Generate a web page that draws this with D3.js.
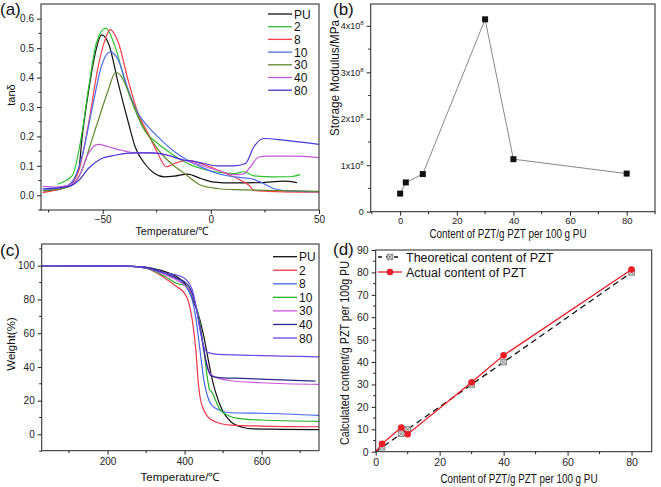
<!DOCTYPE html>
<html><head><meta charset="utf-8">
<script src="https://cdn.jsdelivr.net/npm/d3@7"></script>
<style>body{margin:0;background:#fff}svg{display:block;font-family:"Liberation Sans",Arial,sans-serif}</style>
</head><body><svg id="c" width="661" height="487"></svg>
<script>
// ---------- DATA ----------
// (a) tan delta vs temperature
const seriesA = ["PU","2","8","10","30","40","80"];
const colorsA = ["#111111","#2ec12e","#ff3b4a","#4a6cf0","#5f8a2c","#c257d8","#4338d8"];
const tanPU = [[-77,0.015],[-70,0.02],[-65.7,0.034],[-61,0.09],[-59.6,0.19],[-56.6,0.35],[-53.5,0.48],[-50.5,0.545],[-47,0.51],[-42.8,0.38],[-38,0.244],[-35,0.165],[-30.6,0.108],[-26,0.074],[-21.4,0.0625],[-16.8,0.065],[-10.7,0.072],[-4.6,0.057],[1.5,0.045],[10.7,0.042],[23,0.043],[33.6,0.048],[39.8,0.043]];
const tan2 = [[-71,0.0375],[-64,0.068],[-59.6,0.21],[-56.6,0.36],[-52.8,0.52],[-48.6,0.568],[-44.3,0.506],[-39.8,0.39],[-35,0.29],[-30.6,0.22],[-24.5,0.176],[-18.3,0.142],[-10.7,0.108],[-1.5,0.085],[6.1,0.076],[10.7,0.074],[15.3,0.08],[19.9,0.066],[29,0.0625],[36.7,0.063],[41.3,0.07]];
const tan8 = [[-77.7,0.009],[-65.7,0.034],[-61,0.085],[-56.6,0.24],[-52,0.44],[-48.9,0.528],[-46.6,0.563],[-42.8,0.52],[-38.2,0.39],[-33.6,0.278],[-29,0.21],[-24.5,0.142],[-20.6,0.097],[-16.8,0.108],[-10.7,0.119],[-4.6,0.108],[1.5,0.091],[7.6,0.072],[13.8,0.051],[17.6,0.034],[19.9,0.017],[26,0.0136],[41.3,0.011],[50,0.011]];
const tan10 = [[-77.7,0.017],[-65.7,0.034],[-59.6,0.13],[-55,0.29],[-50.5,0.44],[-46.6,0.487],[-42.8,0.46],[-38.2,0.358],[-33.6,0.278],[-29,0.233],[-22.9,0.1875],[-16.8,0.148],[-10.7,0.119],[-4.6,0.0966],[3.1,0.074],[10.7,0.0625],[18.3,0.057],[23,0.045],[29,0.023],[35.2,0.015],[50,0.012]];
const tan30 = [[-77.7,0.015],[-65.7,0.028],[-59.6,0.085],[-55,0.1875],[-50.5,0.29],[-47.4,0.358],[-44,0.418],[-41.3,0.403],[-36.7,0.324],[-32.1,0.244],[-27.5,0.1875],[-22.9,0.142],[-18.3,0.108],[-12.2,0.074],[-4.6,0.034],[3.1,0.023],[10.7,0.019],[26,0.017],[50,0.0136]];
const tan40 = [[-77.7,0.03],[-71.8,0.028],[-65.7,0.034],[-61,0.0625],[-56.6,0.142],[-52,0.173],[-47.4,0.165],[-41.3,0.153],[-35,0.144],[-27.5,0.144],[-19.9,0.136],[-12.2,0.119],[-4.6,0.102],[3.1,0.085],[10.7,0.07],[15.3,0.073],[18.3,0.097],[22.2,0.13],[26,0.133],[38.2,0.133],[50,0.128]];
const tan80 = [[-77.7,0.0216],[-65.7,0.03],[-61,0.051],[-56.6,0.091],[-50.5,0.125],[-44.3,0.136],[-35,0.144],[-27.5,0.144],[-19.9,0.136],[-12.2,0.119],[-9.2,0.117],[-4.6,0.11],[3.1,0.1],[10.7,0.1],[16,0.108],[19.9,0.165],[24.5,0.193],[33.6,0.1875],[50,0.173]];
const dataA = [tanPU,tan2,tan8,tan10,tan30,tan40,tan80];

// (b) storage modulus
const contentB = [0,2,8,30,40,80];
const modulusB = [0.39e8,0.63e8,0.81e8,4.14e8,1.13e8,0.82e8];

// (c) TGA weight vs temperature
const seriesC = ["PU","2","8","10","30","40","80"];
const colorsC = ["#111111","#f0344a","#4466ee","#22b522","#cc55dd","#2a2a90","#6a4ae6"];
const wPU = [[30,100],[250,99.8],[300,99],[350,96.4],[380,93.5],[400,89.5],[420,80.6],[440,67.8],[450,57.9],[460,46],[470,34.2],[480,25.3],[500,13.4],[520,7.5],[550,4.2],[580,3.2],[650,3],[750,2.8]];
const w2 = [[30,100],[250,99.8],[300,98.5],[350,92.5],[380,87.5],[400,83.6],[410,78.7],[420,67.8],[430,48],[435,32],[440,22.3],[450,14.4],[460,10.5],[480,7.5],[520,5.5],[600,4.9],[750,4.5]];
const w8 = [[30,100],[250,99.8],[300,99],[350,95.5],[380,92.5],[400,88.5],[420,79.6],[430,67.8],[440,50],[450,32.2],[460,22.3],[470,17.4],[490,14.4],[520,12.8],[600,12.5],[750,11.2]];
const w10 = [[30,100],[250,99.8],[300,98.5],[350,93.5],[380,89.5],[400,88.5],[420,82.6],[440,65.8],[450,50],[460,32.2],[465,26.3],[470,25.3],[480,20.4],[490,15.4],[510,11.5],[540,9.5],[600,8.5],[750,7.7]];
const w30 = [[30,100],[250,99.8],[300,99],[350,94.5],[380,91.5],[400,88.5],[420,82.6],[440,63.8],[450,50],[460,40],[470,35.2],[490,33.2],[520,31.8],[600,30.6],[750,29.6]];
const w40 = [[30,100],[250,99.8],[300,99],[350,95.5],[380,92.5],[400,90.5],[420,83.6],[440,63.8],[450,50],[460,39],[470,34.6],[490,33.6],[550,33.2],[740,31.6]];
const w80 = [[30,100],[250,99.8],[300,98.5],[350,95.5],[380,94.5],[400,92.5],[420,85.6],[430,75.7],[440,61.9],[450,52],[460,48.6],[480,47.6],[550,47],[750,46]];
const dataC = [wPU,w2,w8,w10,w30,w40,w80];

// (d) calculated vs theoretical content
const contentD = [0,2,8,10,30,40,80];
const theoreticalD = [0,2,8,10,30,40,80];
const actualD = [0,3.5,10.8,7.8,31,43,81.3];

// ---------- DRAW ----------
const svg = d3.select("#c");
const FR = "#222";

function frame(g, x0, x1, y0, y1){
  g.append("rect").attr("x",x0).attr("y",y0).attr("width",x1-x0).attr("height",y1-y0)
    .attr("fill","none").attr("stroke",FR).attr("stroke-width",1);
}
function xAxis(x, y0, majors, minors, fmt, fs, pad=3){
  const g = svg.append("g").attr("transform",`translate(0,${y0})`);
  const ax = d3.axisBottom(x).tickValues(majors).tickSize(4).tickPadding(pad).tickFormat(fmt);
  g.call(ax);
  g.select(".domain").remove();
  g.selectAll("line").attr("stroke",FR);
  g.selectAll("text").attr("font-size",fs).attr("fill","#222").attr("font-family","Liberation Sans, Arial");
  minors.forEach(v=>g.append("line").attr("x1",x(v)).attr("x2",x(v)).attr("y1",0).attr("y2",2.5).attr("stroke",FR));
  return g;
}
function yAxis(y, x0, majors, minors, fmt, fs){
  const g = svg.append("g").attr("transform",`translate(${x0},0)`);
  const ax = d3.axisLeft(y).tickValues(majors).tickSize(4).tickFormat(fmt);
  g.call(ax);
  g.select(".domain").remove();
  g.selectAll("line").attr("stroke",FR);
  g.selectAll("text").attr("font-size",fs).attr("fill","#222").attr("font-family","Liberation Sans, Arial");
  minors.forEach(v=>g.append("line").attr("y1",y(v)).attr("y2",y(v)).attr("x1",0).attr("x2",-2.5).attr("stroke",FR));
  return g;
}
function label(txt,x,y,fs,opts={}){
  const t = svg.append("text").attr("x",x).attr("y",y).attr("font-size",fs).attr("fill","#111").text(txt);
  if(opts.anchor) t.attr("text-anchor",opts.anchor);
  if(opts.rot) t.attr("transform",`rotate(-90,${x},${y})`);
  if(opts.len) t.attr("textLength",opts.len).attr("lengthAdjust","spacingAndGlyphs");
  if(opts.weight) t.attr("font-weight",opts.weight);
  return t;
}

// ----- Panel (a) -----
{
  const x = d3.scaleLinear().domain([-78.5,50]).range([41,319]);
  const y = d3.scaleLinear().domain([-0.05,0.65]).range([210,4]);
  const g = svg.append("g");
  svg.append("clipPath").attr("id","ca").append("rect").attr("x",41).attr("y",4).attr("width",278).attr("height",206);
  const line = d3.line().x(d=>x(d[0])).y(d=>y(d[1])).curve(d3.curveMonotoneX);
  dataA.forEach((d,i)=>g.append("path").attr("d",line(d)).attr("fill","none").attr("stroke",colorsA[i]).attr("stroke-width",1.2).attr("clip-path","url(#ca)"));
  frame(g,41,319,4,210);
  xAxis(x,210,[-50,0,50],[-75,-25,25],d3.format("d"),10,2);
  yAxis(y,41,[0,0.1,0.2,0.3,0.4,0.5,0.6],[-0.05,0.05,0.15,0.25,0.35,0.45,0.55],d3.format(".1f"),10);
  label("Temperature/℃",172,235,11.5,{anchor:"middle",len:73});
  label("tanδ",15,95,11,{anchor:"middle",rot:true});
  label("(a)",0,15,17);
  const lg = svg.append("g");
  seriesA.forEach((s,i)=>{
    const yy = 14 + i*12.7;
    lg.append("line").attr("x1",268).attr("x2",292).attr("y1",yy).attr("y2",yy).attr("stroke",colorsA[i]).attr("stroke-width",1.3);
    lg.append("text").attr("x",294).attr("y",yy+4.5).attr("font-size",12).attr("fill","#111").text(s);
  });
}

// ----- Panel (b) -----
{
  const x = d3.scaleLinear().domain([-10.4,90]).range([370.7,655]);
  const y = d3.scaleLinear().domain([0,4.47e8]).range([211.7,4]);
  const g = svg.append("g");
  const pts = contentB.map((c,i)=>[c,modulusB[i]]);
  g.append("path").attr("d",d3.line().x(d=>x(d[0])).y(d=>y(d[1]))(pts)).attr("fill","none").attr("stroke","#888").attr("stroke-width",1);
  g.selectAll("rect.m").data(pts).enter().append("rect").attr("x",d=>x(d[0])-3).attr("y",d=>y(d[1])-3).attr("width",6).attr("height",6).attr("fill","#111");
  frame(g,370.7,655,4,211.7);
  xAxis(x,211.7,[0,20,40,60,80],[-10,10,30,50,70,90],d3.format("d"),9.5,1.5);
  const ya = yAxis(y,370.7,[0,1e8,2e8,3e8,4e8],[0.5e8,1.5e8,2.5e8,3.5e8],()=>"",9);
  ya.selectAll(".tick text").each(function(d){
    const t = d3.select(this);
    if(d===0){ t.text("0"); return; }
    t.text(null);
    t.append("tspan").text((d/1e8)+"x10");
    t.append("tspan").attr("dy",-4).attr("font-size",6).text("8");
  });
  label("Content of PZT/g PZT per 100 g PU",508,237.5,12,{anchor:"middle",len:157});
  label("Storage Modulus/MPa",339,78,12,{anchor:"middle",rot:true,len:116});
  label("(b)",333,15,17);
}

// ----- Panel (c) -----
{
  const x = d3.scaleLinear().domain([29,749]).range([41.7,319]);
  const y = d3.scaleLinear().domain([-9.7,112.9]).range([450.7,244]);
  const g = svg.append("g");
  svg.append("clipPath").attr("id","cc").append("rect").attr("x",41.7).attr("y",244).attr("width",277.3).attr("height",206.7);
  const line = d3.line().x(d=>x(d[0])).y(d=>y(d[1])).curve(d3.curveMonotoneX);
  dataC.forEach((d,i)=>g.append("path").attr("d",line(d)).attr("fill","none").attr("stroke",colorsC[i]).attr("stroke-width",1.2).attr("clip-path","url(#cc)"));
  frame(g,41.7,319,244,450.7);
  xAxis(x,450.7,[200,400,600],[100,300,500,700],d3.format("d"),10);
  yAxis(y,41.7,[0,20,40,60,80,100],[-10,10,30,50,70,90,110],d3.format("d"),10);
  label("Temperature/℃",180,481,11.5,{anchor:"middle"});
  label("Weight(%)",15,344,11.5,{anchor:"middle",rot:true});
  label("(c)",0,256,17);
  const lg = svg.append("g");
  seriesC.forEach((s,i)=>{
    const yy = 256.7 + i*13.55;
    lg.append("line").attr("x1",273).attr("x2",297).attr("y1",yy).attr("y2",yy).attr("stroke",colorsC[i]).attr("stroke-width",1.3);
    lg.append("text").attr("x",299).attr("y",yy+4.5).attr("font-size",12).attr("fill","#111").text(s);
  });
}

// ----- Panel (d) -----
{
  const x = d3.scaleLinear().domain([0,86.3]).range([375.7,651.7]);
  const y = d3.scaleLinear().domain([0,90]).range([451.7,250]);
  const g = svg.append("g");
  const theo = contentD.map((c,i)=>[c,theoreticalD[i]]);
  const act = contentD.map((c,i)=>[c,actualD[i]]);
  const line = d3.line().x(d=>x(d[0])).y(d=>y(d[1]));
  g.append("path").attr("d",line(theo)).attr("fill","none").attr("stroke","#111").attr("stroke-width",1.3).attr("stroke-dasharray","6,4");
  function xsq(gg,cx,cy){
    gg.append("rect").attr("x",cx-2.8).attr("y",cy-2.8).attr("width",5.6).attr("height",5.6).attr("fill","#ddd").attr("stroke","#777").attr("stroke-width",0.8);
    gg.append("path").attr("d",`M${cx-2.8},${cy-2.8}L${cx+2.8},${cy+2.8}M${cx+2.8},${cy-2.8}L${cx-2.8},${cy+2.8}`).attr("stroke","#777").attr("stroke-width",0.8);
  }
  theo.slice(1).forEach(d=>xsq(g,x(d[0]),y(d[1])));
  g.append("path").attr("d",line(act)).attr("fill","none").attr("stroke","#ee1c25").attr("stroke-width",1.3);
  g.selectAll("circle.a").data(act.slice(1)).enter().append("circle").attr("cx",d=>x(d[0])).attr("cy",d=>y(d[1])).attr("r",3.3).attr("fill","#ee1c25");
  frame(g,375.7,651.7,250,451.7);
  xAxis(x,451.7,[0,20,40,60,80],[10,30,50,70],d3.format("d"),10.5);
  yAxis(y,375.7,[0,10,20,30,40,50,60,70,80,90],[5,15,25,35,45,55,65,75,85],d3.format("d"),10.5);
  label("Content of PZT/g PZT per 100 g PU",519,483,12.5,{anchor:"middle",len:157});
  label("Calculated content/g PZT per 100g PU",349,353,12.5,{anchor:"middle",rot:true,len:184});
  label("(d)",333,255,17);
  // legend
  const lg = svg.append("g");
  lg.append("line").attr("x1",378).attr("x2",402).attr("y1",257).attr("y2",257).attr("stroke","#111").attr("stroke-width",1.3).attr("stroke-dasharray","4,4");
  xsq(lg,390,257);
  lg.append("text").attr("x",406).attr("y",261.5).attr("font-size",12.5).attr("fill","#111").text("Theoretical content of PZT");
  lg.append("line").attr("x1",378).attr("x2",402).attr("y1",272).attr("y2",272).attr("stroke","#ee1c25").attr("stroke-width",1.3);
  lg.append("circle").attr("cx",390).attr("cy",272).attr("r",3.3).attr("fill","#ee1c25");
  lg.append("text").attr("x",406).attr("y",276.5).attr("font-size",12.5).attr("fill","#111").text("Actual content of PZT");
}
</script></body></html>
